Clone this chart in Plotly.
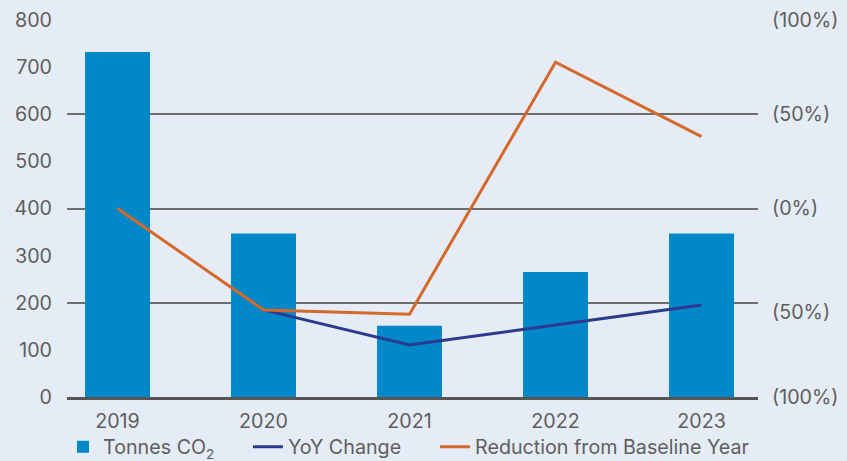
import plotly.graph_objects as go

years = ["2019", "2020", "2021", "2022", "2023"]
tonnes_co2 = [732, 347, 151, 265, 347]
yoy_change = [None, -53.8, -72.4, -61.8, -51.2]
reduction_baseline = [0.0, -53.8, -56.1, 77.6, 38.1]

left_ticks = [0, 100, 200, 300, 400, 500, 600, 700, 800]
grid_step = 200
right_tickvals = [100, 50, 0, -55, -100]
right_ticktext = ["(100%)", "(50%)", "(0%)", "(50%)", "(100%)"]

BG = "#E5ECF6"
TXT = "#5E5E5E"
FONT = "Inter"
FS = 19.7

fig = go.Figure()
fig.add_trace(go.Bar(x=years, y=tonnes_co2, name="Tonnes CO<sub>2</sub>",
                     marker=dict(color="#0088C9", line=dict(width=0)),
                     width=0.445, yaxis="y", legend="legend"))
fig.add_trace(go.Scatter(x=years, y=yoy_change, name="YoY Change", mode="lines",
                         line=dict(color="#2B3A8F", width=3), yaxis="y2", legend="legend2"))
fig.add_trace(go.Scatter(x=years, y=reduction_baseline, name="Reduction from Baseline Year",
                         mode="lines", line=dict(color="#D4692B", width=3), yaxis="y2",
                         legend="legend3"))
# invisible helper trace so the left label axis is rendered
fig.add_trace(go.Scatter(x=years, y=tonnes_co2, mode="markers", marker=dict(opacity=0),
                         showlegend=False, hoverinfo="skip", yaxis="y3"))

leg_common = dict(orientation="h", xanchor="left", y=-0.1326, yanchor="middle",
                  font=dict(family=FONT, size=FS, color=TXT), bgcolor="rgba(0,0,0,0)",
                  itemwidth=30)

fig.update_layout(
    width=847, height=461,
    margin=dict(l=67, r=89, t=20, b=64, autoexpand=False),
    paper_bgcolor=BG, plot_bgcolor=BG,
    font=dict(family=FONT, size=FS, color=TXT),
    showlegend=True,
    legend=dict(x=-0.0058, **leg_common),
    legend2=dict(x=0.2619, **leg_common),
    legend3=dict(x=0.5326, **leg_common),
    xaxis=dict(type="category", range=[-0.346, 4.387], showgrid=False, zeroline=False,
               showline=True, linecolor="#555555", linewidth=3, ticks="",
               ticklabelstandoff=4, tickfont=dict(size=FS, color=TXT)),
    yaxis=dict(range=[0, 800], dtick=grid_step, showgrid=True, gridcolor="#6E6E6E",
               gridwidth=1.5, zeroline=False, showticklabels=False, ticks=""),
    yaxis2=dict(range=[-100, 100], overlaying="y", side="right", tickvals=right_tickvals,
                ticktext=right_ticktext, showgrid=False, zeroline=False, ticks="",
                ticklabelstandoff=13, tickfont=dict(size=FS, color=TXT)),
    yaxis3=dict(range=[0, 800], overlaying="y", side="left", tickvals=left_ticks,
                showgrid=False, zeroline=False, ticks="", ticklabelstandoff=14,
                tickfont=dict(size=FS, color=TXT)),
)

fig.write_html("out.html")
